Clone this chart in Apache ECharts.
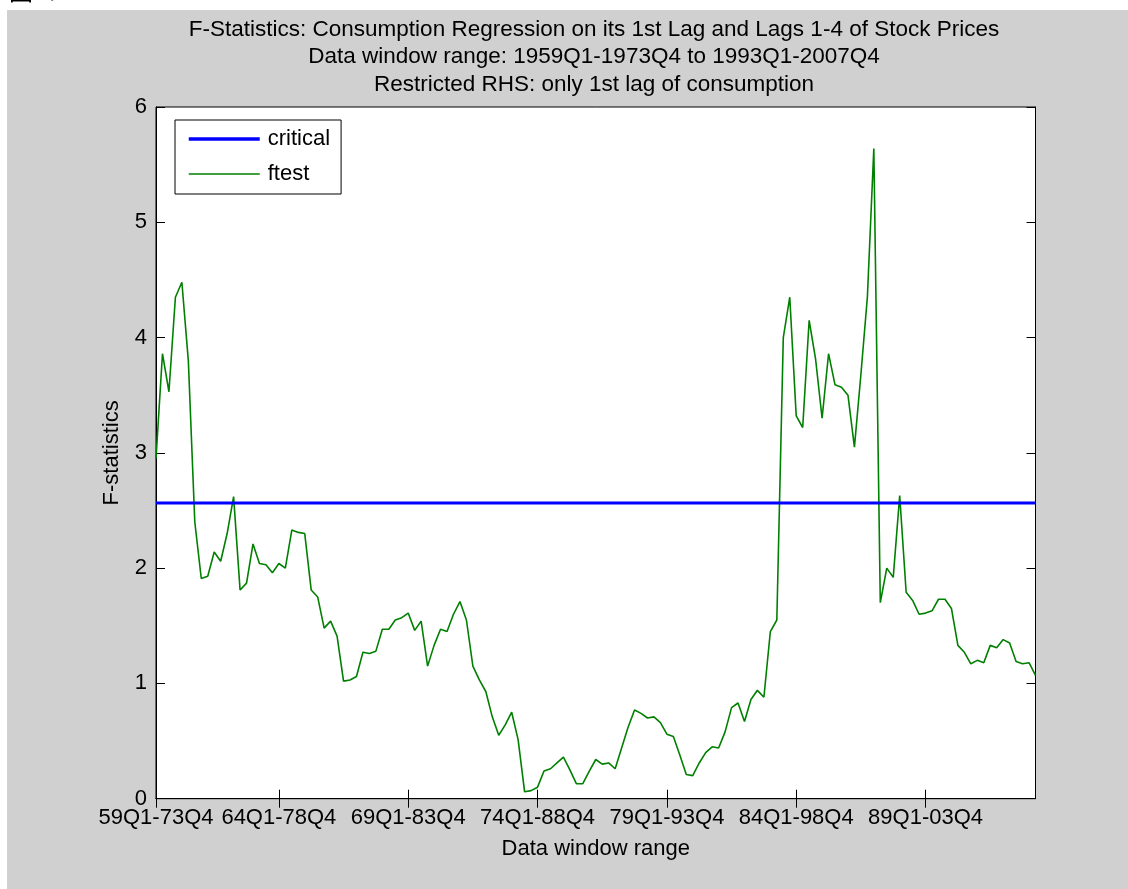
<!DOCTYPE html>
<html>
<head>
<meta charset="utf-8">
<script src="https://cdn.jsdelivr.net/npm/echarts@6/dist/echarts.min.js"></script>
<style>
  html, body { margin: 0; padding: 0; background: #ffffff; }
  #chart { width: 1128px; height: 889px; }
</style>
</head>
<body>
<div id="chart"></div>
<script>
// F statistic for each rolling 60-quarter data window (window 1 = 59Q1-73Q4 ... window 137 = 93Q1-07Q4)
const ftest = [
  2.95, 3.86, 3.53, 4.35, 4.48, 3.80, 2.40, 1.91, 1.93, 2.14,
  2.06, 2.30, 2.62, 1.81, 1.87, 2.21, 2.04, 2.03, 1.96, 2.04,
  2.00, 2.33, 2.31, 2.30, 1.81, 1.75, 1.48, 1.54, 1.41, 1.02,
  1.03, 1.06, 1.27, 1.26, 1.28, 1.47, 1.47, 1.55, 1.57, 1.61,
  1.46, 1.54, 1.15, 1.33, 1.47, 1.45, 1.60, 1.71, 1.55, 1.15,
  1.03, 0.93, 0.71, 0.55, 0.64, 0.75, 0.51, 0.06, 0.07, 0.10,
  0.24, 0.26, 0.31, 0.36, 0.25, 0.13, 0.13, 0.24, 0.34, 0.30,
  0.31, 0.26, 0.44, 0.62, 0.77, 0.74, 0.70, 0.71, 0.66, 0.56,
  0.54, 0.38, 0.21, 0.20, 0.31, 0.40, 0.45, 0.44, 0.58, 0.79,
  0.83, 0.67, 0.86, 0.94, 0.88, 1.45, 1.55, 4.00, 4.35, 3.32,
  3.22, 4.15, 3.81, 3.30, 3.86, 3.59, 3.57, 3.50, 3.05, 3.68,
  4.35, 5.64, 1.70, 2.00, 1.92, 2.63, 1.79, 1.72, 1.60, 1.61,
  1.63, 1.73, 1.73, 1.65, 1.33, 1.27, 1.17, 1.20, 1.18, 1.33,
  1.31, 1.38, 1.35, 1.19, 1.17, 1.18, 1.07
];

// 5% critical value of the F distribution
const criticalValue = 2.565;

// x tick positions (window number) and their labels
const tickPositions = [1, 20, 40, 60, 80, 100, 120];
const tickLabels = ['59Q1-73Q4', '64Q1-78Q4', '69Q1-83Q4', '74Q1-88Q4', '79Q1-93Q4', '84Q1-98Q4', '89Q1-03Q4'];

const titleLines = [
  'F-Statistics: Consumption Regression on its 1st Lag and Lags 1-4 of Stock Prices',
  'Data window range: 1959Q1-1973Q4 to 1993Q1-2007Q4',
  'Restricted RHS: only 1st lag of consumption'
];

const FONT = '"Liberation Sans", Arial, Helvetica, sans-serif';
const nWindows = ftest.length;

const ftestPoints = ftest.map((v, i) => [i + 1, v]);
const criticalPoints = [[1, criticalValue], [nWindows, criticalValue]];

const chart = echarts.init(document.getElementById('chart'), null, { renderer: 'canvas' });

const tickStyle = { show: true, inside: true, length: 9, lineStyle: { color: '#000', width: 1 } };

chart.setOption({
  backgroundColor: '#ffffff',
  animation: false,
  graphic: [
    {
      type: 'rect',
      shape: { x: 7, y: 10, width: 1121, height: 879 },
      style: { fill: '#d0d0d0' },
      z: -10
    },
    {
      type: 'text',
      x: 9, y: 3,
      style: {
        text: '图4：',
        font: '24px "Noto Sans CJK SC", sans-serif',
        fill: '#000',
        textVerticalAlign: 'bottom'
      },
      z: -5
    }
  ],
  title: {
    text: titleLines.join('\n'),
    left: 589,
    top: 11,
    textAlign: 'center',
    textStyle: {
      fontFamily: FONT,
      fontSize: 22.5,
      fontWeight: 'normal',
      color: '#000',
      lineHeight: 27.5
    }
  },
  grid: {
    left: 156,
    top: 107,
    width: 879.5,
    height: 691.7,
    show: true,
    backgroundColor: '#ffffff',
    borderColor: '#000',
    borderWidth: 1
  },
  legend: {
    orient: 'vertical',
    left: 175,
    top: 120,
    padding: [8, 11, 9, 12],
    itemGap: 13,
    itemWidth: 71,
    itemHeight: 12,
    backgroundColor: '#ffffff',
    borderColor: '#000',
    borderWidth: 1,
    borderRadius: 0,
    itemStyle: { opacity: 0 },
    textStyle: {
      fontFamily: FONT,
      fontSize: 22,
      color: '#000',
      padding: [0, 0, 0, 3]
    },
    data: [
      { name: 'critical', lineStyle: { color: '#0000ff', width: 3.5 } },
      { name: 'ftest', lineStyle: { color: '#008000', width: 1.6 } }
    ]
  },
  xAxis: [
    {
      type: 'value',
      min: 1,
      max: nWindows,
      position: 'bottom',
      name: 'Data window range',
      nameLocation: 'middle',
      nameGap: 39,
      nameTextStyle: { fontFamily: FONT, fontSize: 22, color: '#000' },
      axisLine: { show: true, lineStyle: { color: '#000', width: 1 } },
      axisTick: Object.assign({ customValues: tickPositions }, tickStyle),
      axisLabel: {
        customValues: tickPositions,
        formatter: (v) => tickLabels[tickPositions.indexOf(Math.round(v))] || '',
        margin: 8,
        fontFamily: FONT,
        fontSize: 22,
        color: '#000'
      },
      splitLine: { show: false }
    },
    {
      type: 'value',
      min: 1,
      max: nWindows,
      position: 'top',
      axisLine: { show: true, lineStyle: { color: '#000', width: 1 } },
      axisTick: Object.assign({ customValues: tickPositions }, tickStyle),
      axisLabel: { show: false },
      splitLine: { show: false }
    }
  ],
  yAxis: [
    {
      type: 'value',
      min: 0,
      max: 6,
      interval: 1,
      position: 'left',
      name: 'F-statistics',
      nameLocation: 'middle',
      nameGap: 33,
      nameTextStyle: { fontFamily: FONT, fontSize: 22, color: '#000' },
      axisLine: { show: true, lineStyle: { color: '#000', width: 1 } },
      axisTick: tickStyle,
      axisLabel: { margin: 9, fontFamily: FONT, fontSize: 22, color: '#000' },
      splitLine: { show: false }
    },
    {
      type: 'value',
      min: 0,
      max: 6,
      interval: 1,
      position: 'right',
      axisLine: { show: true, lineStyle: { color: '#000', width: 1 } },
      axisTick: tickStyle,
      axisLabel: { show: false },
      splitLine: { show: false }
    }
  ],
  series: [
    {
      name: 'critical',
      type: 'line',
      xAxisIndex: 0,
      yAxisIndex: 0,
      data: criticalPoints,
      showSymbol: false,
      symbol: 'none',
      lineStyle: { color: '#0000ff', width: 3 },
      itemStyle: { color: '#0000ff' },
      z: 3
    },
    {
      name: 'ftest',
      type: 'line',
      xAxisIndex: 0,
      yAxisIndex: 0,
      data: ftestPoints,
      showSymbol: false,
      symbol: 'none',
      lineStyle: { color: '#008000', width: 1.6 },
      itemStyle: { color: '#008000' },
      z: 2
    }
  ]
});
</script>
</body>
</html>
